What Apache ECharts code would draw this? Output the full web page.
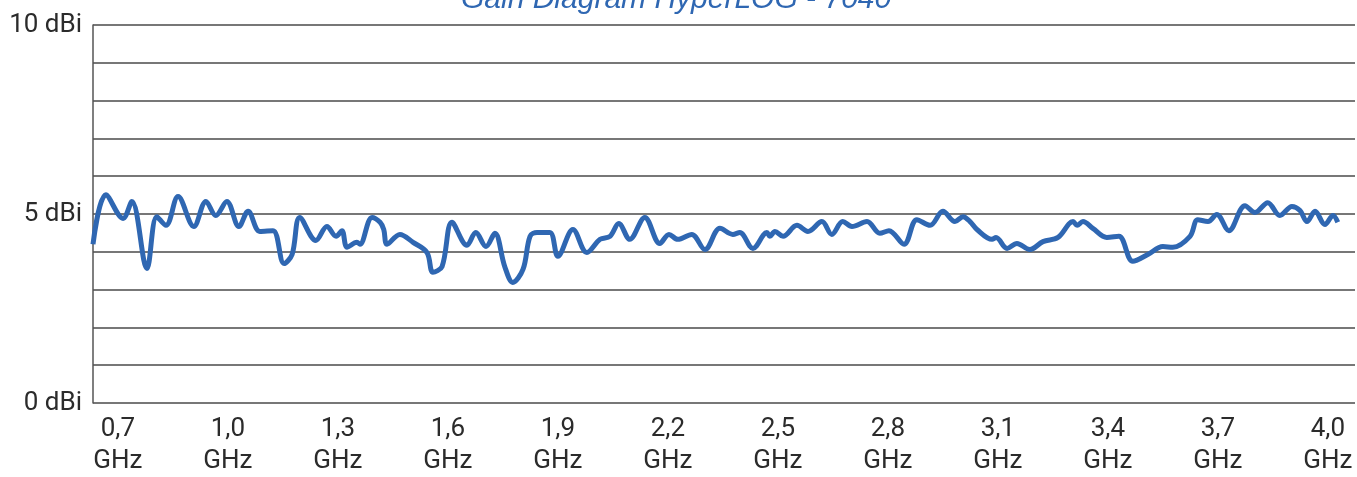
<!DOCTYPE html>
<html lang="en">

<head>
    <meta charset="UTF-8">
    <title>Gain Diagram HyperLOG - 7040</title>
    <script src="https://cdn.jsdelivr.net/npm/echarts@6/dist/echarts.min.js"></script>
    <style>
        html, body { margin: 0; padding: 0; background: #fff; }
        #chart { width: 1357px; height: 477px; }
    </style>
</head>

<body>
    <div id="chart"></div>
    <script>
        // frequency (GHz) and gain (dBi)
        const freqs = [0.632, 0.667, 0.714, 0.738, 0.779, 0.806, 0.831, 0.864, 0.907, 0.940,
            0.967, 0.997, 1.030, 1.055, 1.087, 1.123, 1.153, 1.175, 1.196, 1.240,
            1.270, 1.295, 1.311, 1.325, 1.352, 1.360, 1.393, 1.415, 1.425, 1.434,
            1.469, 1.505, 1.543, 1.559, 1.584, 1.611, 1.652, 1.676, 1.704, 1.728,
            1.755, 1.777, 1.805, 1.824, 1.843, 1.878, 1.900, 1.941, 1.979, 2.015,
            2.042, 2.066, 2.096, 2.137, 2.178, 2.203, 2.227, 2.265, 2.301, 2.342,
            2.377, 2.396, 2.432, 2.470, 2.478, 2.492, 2.514, 2.552, 2.582, 2.620,
            2.647, 2.677, 2.702, 2.743, 2.778, 2.803, 2.844, 2.879, 2.915, 2.950,
            2.983, 3.005, 3.024, 3.043, 3.084, 3.095, 3.125, 3.152, 3.187, 3.223,
            3.264, 3.305, 3.316, 3.332, 3.359, 3.397, 3.430, 3.468, 3.509, 3.550,
            3.577, 3.624, 3.645, 3.673, 3.697, 3.730, 3.774, 3.801, 3.836, 3.869,
            3.902, 3.924, 3.943, 3.965, 3.992, 4.014, 4.027];
        const gain = [4.20, 5.51, 4.88, 5.33, 3.56, 4.93, 4.70, 5.46, 4.67, 5.33,
            4.96, 5.33, 4.67, 5.07, 4.54, 4.56, 3.69, 3.93, 4.91, 4.30,
            4.67, 4.41, 4.56, 4.12, 4.25, 4.20, 4.91, 4.78, 4.59, 4.20,
            4.46, 4.25, 3.98, 3.46, 3.61, 4.78, 4.17, 4.51, 4.14, 4.49,
            3.61, 3.19, 3.54, 4.41, 4.51, 4.51, 3.88, 4.59, 3.98, 4.33,
            4.41, 4.75, 4.33, 4.91, 4.22, 4.46, 4.33, 4.46, 4.06, 4.62,
            4.46, 4.51, 4.09, 4.51, 4.41, 4.54, 4.41, 4.70, 4.54, 4.80,
            4.46, 4.80, 4.67, 4.80, 4.49, 4.56, 4.20, 4.85, 4.70, 5.07,
            4.80, 4.93, 4.80, 4.59, 4.33, 4.38, 4.09, 4.22, 4.06, 4.27,
            4.38, 4.80, 4.70, 4.80, 4.62, 4.38, 4.41, 3.75, 3.93, 4.14,
            4.12, 4.41, 4.85, 4.80, 4.99, 4.56, 5.22, 5.04, 5.30, 4.96,
            5.20, 5.09, 4.80, 5.07, 4.72, 4.96, 4.78];
        // tick labels on the frequency axis
        const freqTicks = [0.7, 1.0, 1.3, 1.6, 1.9, 2.2, 2.5, 2.8, 3.1, 3.4, 3.7, 4.0];
        const gainTicks = [0, 5, 10];

        let chart = echarts.init(document.getElementById('chart'));

        let options = {
            animation: false,
            title: {
                text: 'Gain Diagram HyperLOG - 7040',
                left: 456,
                top: -20,
                textStyle: {
                    color: '#2f67b2',
                    fontFamily: 'Liberation Sans',
                    fontStyle: 'italic',
                    fontWeight: 'normal',
                    fontSize: 30
                }
            },
            grid: { left: 93, right: 2, top: 25, bottom: 73 },
            xAxis: {
                type: 'value',
                min: 0.632,
                max: 4.074,
                axisLine: { show: false },
                axisTick: { show: false },
                splitLine: { show: false },
                axisLabel: {
                    customValues: freqTicks,
                    formatter: v => v.toFixed(1).replace('.', ',') + '\nGHz',
                    color: '#2b2b2b',
                    fontFamily: 'Roboto',
                    fontSize: 26,
                    lineHeight: 32,
                    margin: 10
                }
            },
            yAxis: {
                type: 'value',
                min: 0,
                max: 10,
                interval: 1,
                axisLine: { show: true, lineStyle: { color: '#555', width: 1.5 } },
                axisTick: { show: false },
                splitLine: { lineStyle: { color: '#4a4a4a', width: 1.5 } },
                axisLabel: {
                    formatter: v => gainTicks.includes(v) ? v + ' dBi' : '',
                    color: '#2b2b2b',
                    fontFamily: 'Roboto',
                    fontSize: 26,
                    margin: 11
                }
            },
            series: [{
                type: 'line',
                data: freqs.map((f, i) => [f, gain[i]]),
                smooth: 0.35,
                symbol: 'none',
                lineStyle: { color: '#2f67b2', width: 5 }
            }]
        };
        chart.setOption(options);
    </script>
</body>

</html>
